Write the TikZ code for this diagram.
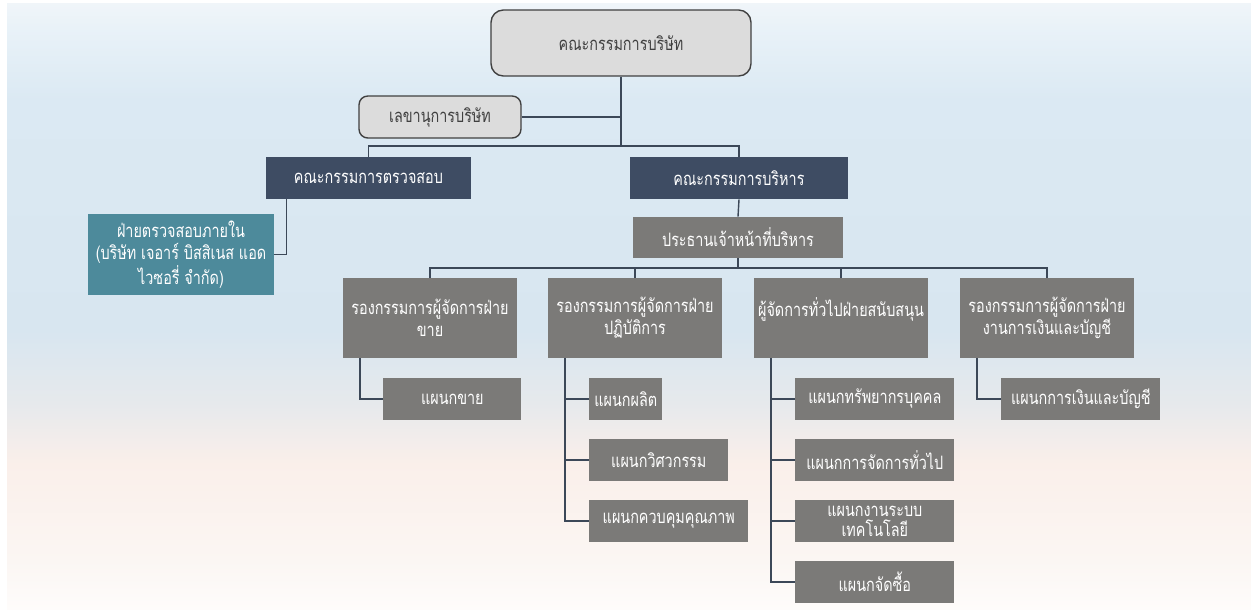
\documentclass[tikz,border=0pt]{standalone}
\usepackage{fontspec}
\newfontfamily\thaifont[Script=Thai,FakeStretch=0.78]{Loma}
\tikzset{>=latex}
\definecolor{navy}{HTML}{3E4C63}
\definecolor{boxgray}{HTML}{7B7A78}
\definecolor{auditteal}{HTML}{4D8A9B}
\definecolor{lightbox}{HTML}{DCDCDC}
\definecolor{linecol}{HTML}{3C4858}
\definecolor{bgA}{HTML}{FEFCFB}
\definecolor{bgB}{HTML}{FBF6F3}
\definecolor{bgC}{HTML}{FAEFEA}
\definecolor{bgD}{HTML}{E6E9EC}
\definecolor{bgE}{HTML}{D8E6F0}
\definecolor{bgF}{HTML}{DBE9F3}
\definecolor{bgG}{HTML}{E9F2F8}
\definecolor{bgH}{HTML}{F0F5F9}
\pgfdeclareverticalshading{panelbg}{100bp}{color(0bp)=(bgA); color(25bp)=(bgA);
  color(29bp)=(bgB); color(37bp)=(bgC); color(42bp)=(bgD); color(48bp)=(bgE);
  color(67bp)=(bgF); color(73bp)=(bgG); color(75bp)=(bgH); color(100bp)=(bgH)}
\tikzset{
  box/.style={inner sep=0pt, align=center, font=\thaifont\fontsize{10.5}{12.5}\selectfont},
  board/.style={box, draw=black!75, line width=0.8pt, fill=lightbox, text=black!75},
  committee/.style={box, fill=navy, text=white, minimum height=0.84cm},
  internal/.style={box, fill=auditteal, text=white},
  manager/.style={box, fill=boxgray, text=white, text width=3.5cm, minimum height=1.6cm},
  dept/.style={box, fill=boxgray, text=white, anchor=west, minimum height=0.84cm, minimum width=3.18cm},
  link/.style={draw=linecol, line width=0.8pt}
}

\begin{document}
\begin{tikzpicture}[x=0.02cm,y=-0.02cm]
	\useasboundingbox (0,0) rectangle (1251,609);
	\fill[white] (0,0) rectangle (1251,609);
	\shade[shading=panelbg] (7,3) rectangle (1251,609);

	\node[board, rounded corners=7pt, minimum width=5.2cm, minimum height=1.32cm] (board) at (621,43) {คณะกรรมการบริษัท};
	\node[board, rounded corners=5pt, minimum width=3.24cm, minimum height=0.84cm] (secretary) at (440,117) {เลขานุการบริษัท};
	\node[committee, minimum width=4.1cm] (audit) at (368.5,178) {คณะกรรมการตรวจสอบ};
	\node[committee, minimum width=4.38cm] (exec) at (739,178) {คณะกรรมการบริหาร};
	\node[internal, minimum width=3.72cm, minimum height=1.62cm] (inaudit) at (181,254.5) {ฝ่ายตรวจสอบภายใน\\(บริษัท เจอาร์ บิสสิเนส แอด\\ไวซอรี่ จำกัด)};
	\node[box, fill=boxgray, text=white, minimum width=4.2cm, minimum height=0.82cm] (ceo) at (738,237.5) {ประธานเจ้าหน้าที่บริหาร};

	\node[manager] (sales) at (430,318) {รองกรรมการผู้จัดการฝ่าย\\ขาย};
	\node[manager] (ops) at (635,318) {รองกรรมการผู้จัดการฝ่าย\\ปฏิบัติการ};
	\node[manager] (support) at (841,318) {ผู้จัดการทั่วไปฝ่ายสนับสนุน\\\mbox{}};
	\node[manager] (finance) at (1047,318) {รองกรรมการผู้จัดการฝ่าย\\งานการเงินและบัญชี};

	\node[dept, minimum width=2.76cm] (salesA) at (383,399) {แผนกขาย};
	\node[dept, minimum width=1.46cm] (opsA) at (589,399) {แผนกผลิต};
	\node[dept, minimum width=2.78cm] (opsB) at (589,460) {แผนกวิศวกรรม};
	\node[dept] (opsC) at (589,521) {แผนกควบคุมคุณภาพ};
	\node[dept] (supA) at (795,399) {แผนกทรัพยากรบุคคล};
	\node[dept] (supB) at (795,460) {แผนกการจัดการทั่วไป};
	\node[dept, font=\thaifont\fontsize{10.5}{11.5}\selectfont] (supC) at (795,521) {แผนกงานระบบ\\เทคโนโลยี};
	\node[dept] (supD) at (795,582) {แผนกจัดซื้อ};
	\node[dept] (finA) at (1001,399) {แผนกการเงินและบัญชี};

	\coordinate (bus1) at (621,146);
	\coordinate (bus2) at (738,268);
	\draw[link] (board.south) -- (bus1);
	\draw[link] (secretary.east) -- (secretary.east -| bus1);
	\draw[link] (audit.north) |- (bus1) -| (exec.north);
	\draw[link] ([xshift=0.42cm]audit.south west) |- (inaudit.east);
	\draw[link] (exec.south) -- (ceo.north);
	\draw[link] (ceo.south) -- (bus2);
	\draw[link] (sales.north) |- (bus2) -| (finance.north);
	\foreach \m in {ops,support}
		\draw[link] (\m.north) -- (\m.north |- bus2);

	\draw[link] ([xshift=0.36cm]sales.south west) |- (salesA.west);
	\draw[link] ([xshift=0.36cm]finance.south west) |- (finA.west);
	\coordinate (opsT) at ([xshift=0.36cm]ops.south west);
	\coordinate (supT) at ([xshift=0.36cm]support.south west);
	\draw[link] (opsT) |- (opsC.west);
	\draw[link] (supT) |- (supD.west);
	\foreach \d in {opsA,opsB}
		\draw[link] (\d.west) -- (\d.west -| opsT);
	\foreach \d in {supA,supB,supC}
		\draw[link] (\d.west) -- (\d.west -| supT);
\end{tikzpicture}
\end{document}
